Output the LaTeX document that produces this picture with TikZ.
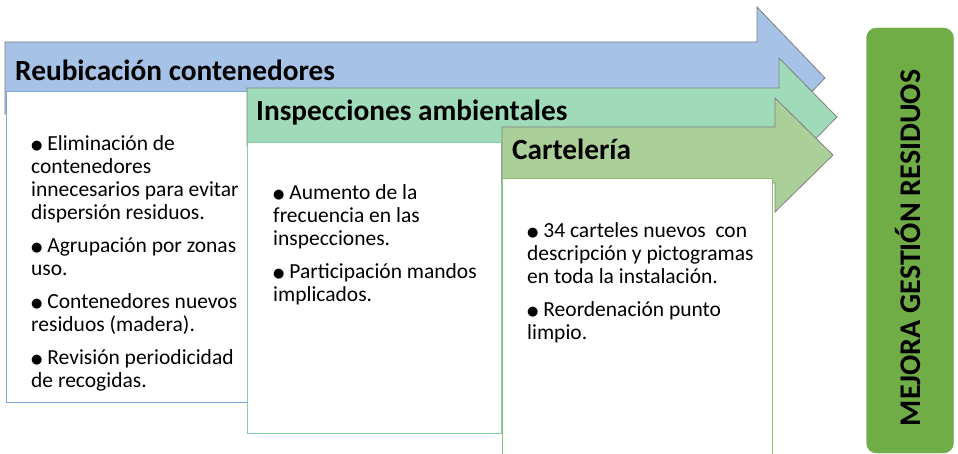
\documentclass[tikz,border=0pt]{standalone}
\usepackage{fontspec}
\setmainfont{Carlito}
\newfontfamily\symfont{DejaVu Sans}
\definecolor{arrA}{HTML}{A7C2E7}
\definecolor{arrB}{HTML}{9FDBB8}
\definecolor{arrC}{HTML}{AACF99}
\definecolor{bdA}{HTML}{7AA8DE}
\definecolor{bdB}{HTML}{7FD0A5}
\definecolor{bdC}{HTML}{8CC26F}
\definecolor{goal}{HTML}{70AD47}
\definecolor{outl}{HTML}{7F7F7F}
\newcommand{\bul}{\raisebox{1.2pt}{\symfont\fontsize{13}{13}\selectfont ●}\ }
\tikzset{
  arrowshape/.style={draw=outl, line width=0.8pt, line join=miter},
  panel/.style={fill=white, line width=0.9pt},
  title/.style={anchor=base west, inner sep=0pt, font=\bfseries\fontsize{29.3}{32}\selectfont},
  body/.style={anchor=base west, inner sep=0pt, text width=250pt, align=flush left, font=\fontsize{21.5}{23}\selectfont},
}
\begin{document}
\begin{tikzpicture}[x=1pt,y=-1pt]
\useasboundingbox (0,0) rectangle (958,454);
% arrow 1
\draw[arrowshape, fill=arrA] (5,42) -- (757,42) -- (757,7) -- (825,78) -- (757,149) -- (757,114) -- (5,114) -- cycle;
\draw[panel, draw=bdA] (6,91) rectangle (247,402);
\node[title] (t1) at (15,81) {Reubicación contenedores};
\node[body] (b1) at (31,151) {\bul Eliminación de\\ contenedores\\ innecesarios para evitar\\ dispersión residuos.\\[10pt]
\bul Agrupación por zonas\\ uso.\\[10pt]
\bul Contenedores nuevos\\ residuos (madera).\\[10pt]
\bul Revisión periodicidad\\ de recogidas.};
% arrow 2
\draw[arrowshape, fill=arrB] (247,88) -- (779,88) -- (779,58) -- (837,117) -- (779,176) -- (779,146) -- (247,146) -- cycle;
\draw[panel, draw=bdB] (247,142) rectangle (501,433);
\node[title] (t2) at (256,121) {Inspecciones ambientales};
\node[body] (b2) at (273,200) {\bul Aumento de la\\ frecuencia en las\\ inspecciones.\\[10pt]
\bul Participación mandos\\ implicados.};
% arrow 3
\draw[arrowshape, fill=arrC] (502,127) -- (775,127) -- (775,98) -- (833,155) -- (775,212) -- (775,183) -- (502,183) -- cycle;
\draw[panel, draw=bdC] (502,470) -- (502,178) -- (772,178) -- (772,470);
\node[title] (t3) at (512,160) {Cartelería};
\node[body] (b3) at (527,238) {\bul 34 carteles nuevos\ \ con\\ descripción y pictogramas\\ en toda la instalación.\\[10pt]
\bul Reordenación punto\\ limpio.};
% goal
\node[draw=goal, fill=goal, rounded corners=10pt, minimum width=87pt, minimum height=425pt, inner sep=0pt] (goal) at (910,240.5) {};
\node[rotate=90, font=\bfseries\fontsize{30}{34}\selectfont, inner sep=0pt] (gtext) at (908,248) {MEJORA GESTIÓN RESIDUOS};
\end{tikzpicture}
\end{document}
